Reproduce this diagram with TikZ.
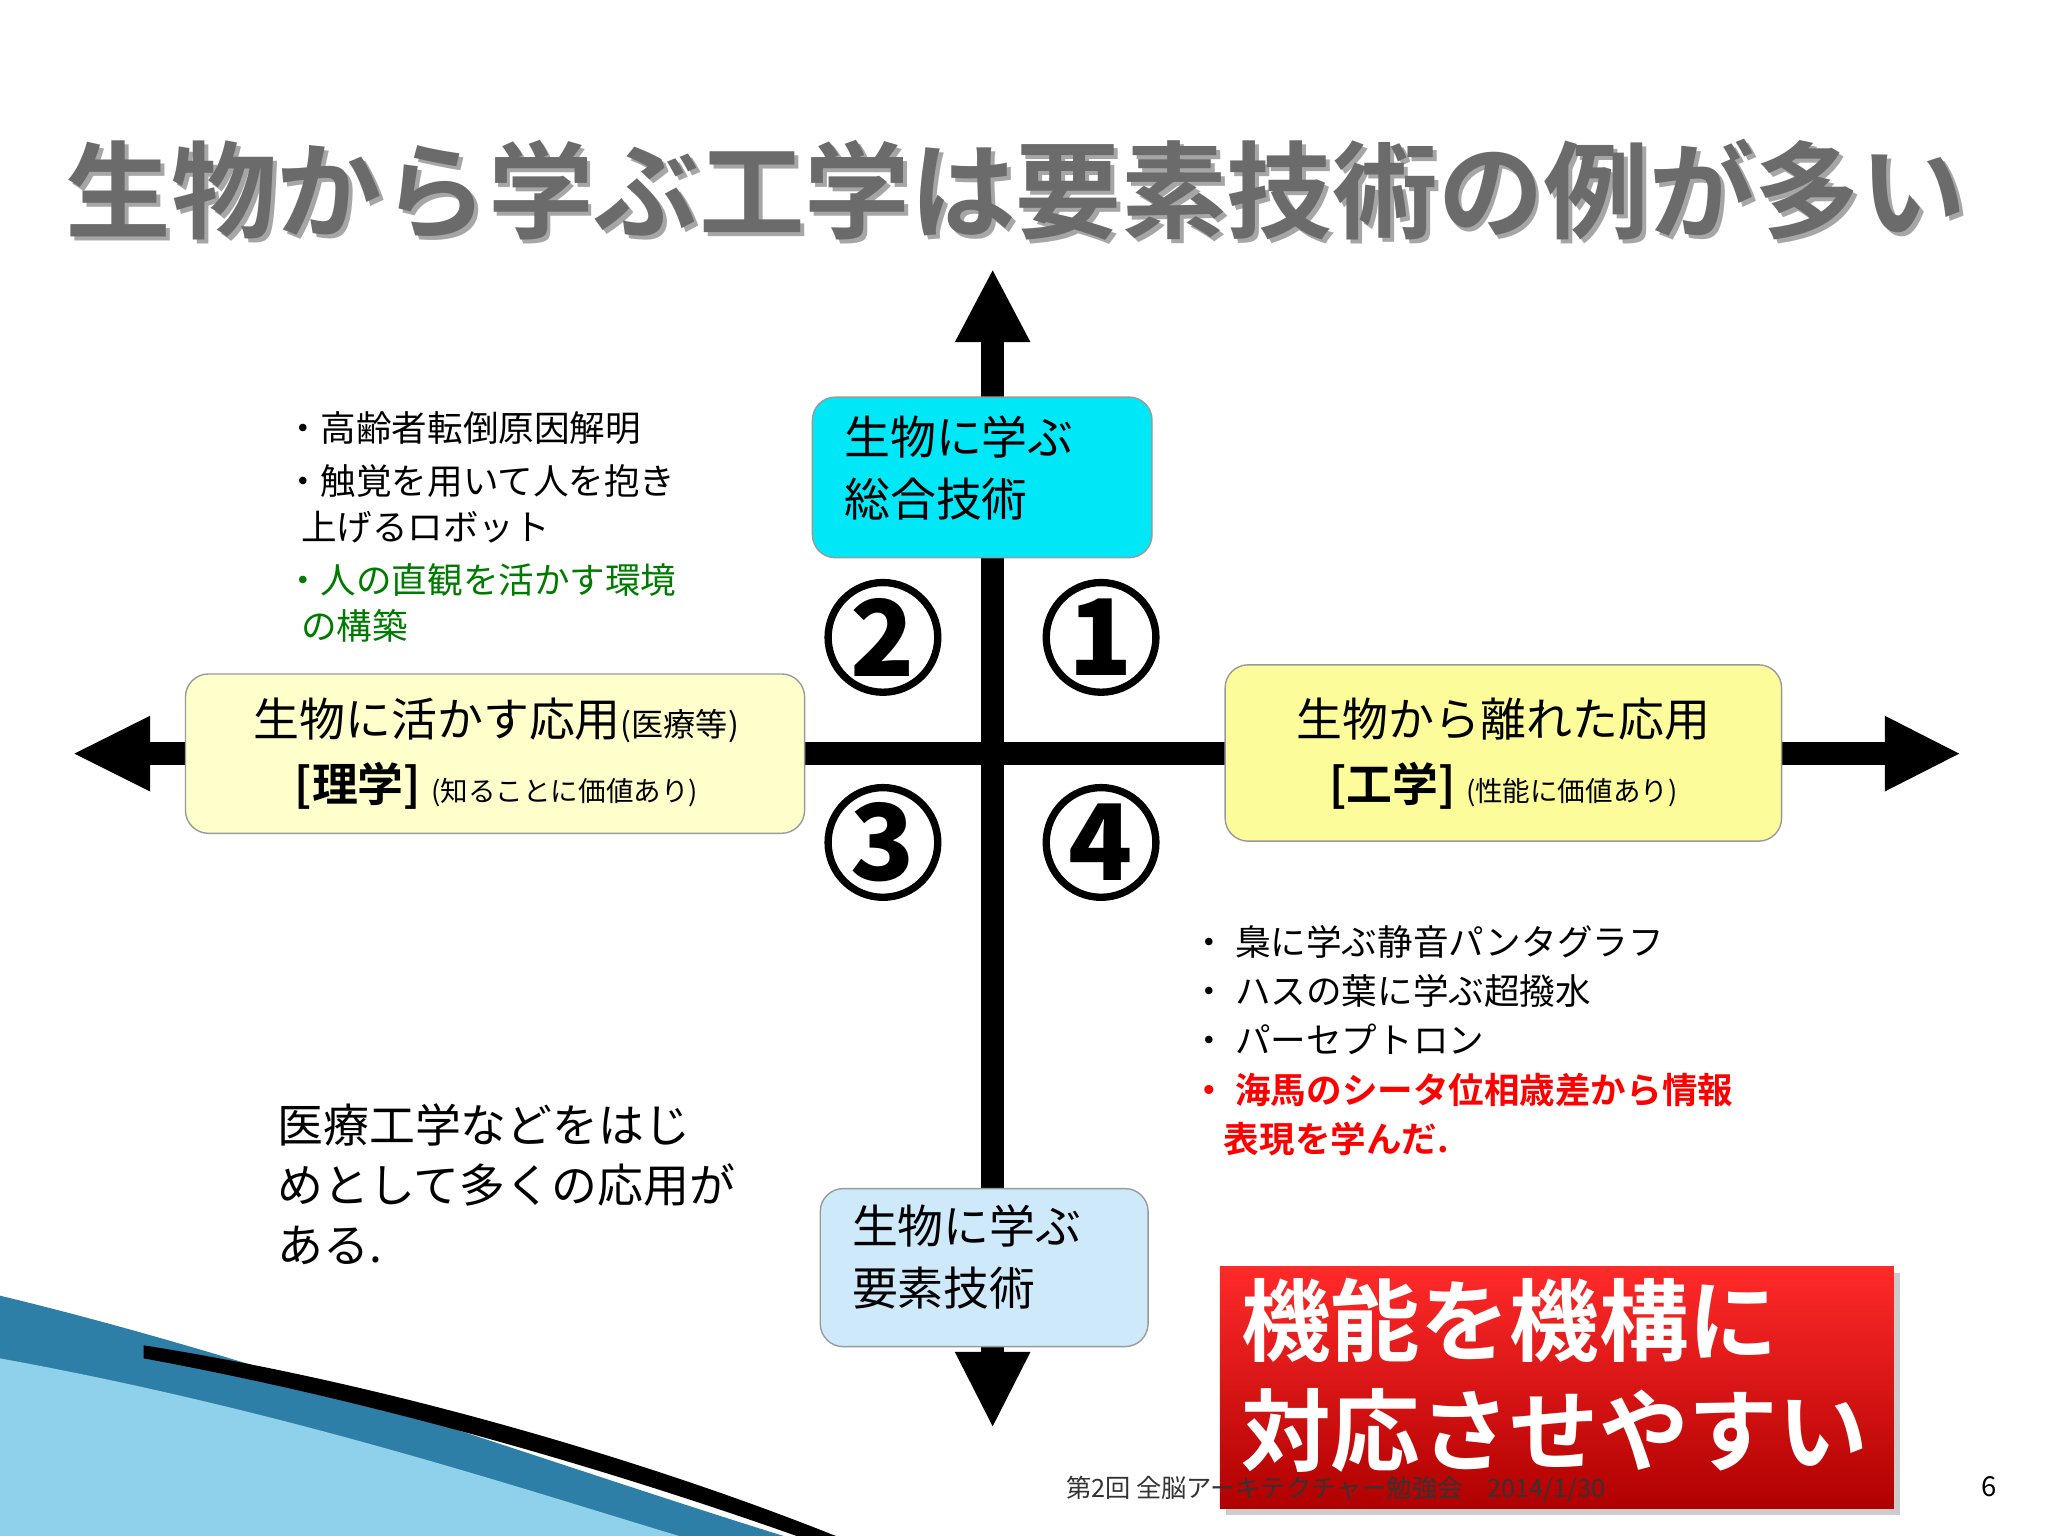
\documentclass[tikz,border=0pt]{standalone}
\usepackage{fontspec}
\setmainfont{Noto Sans CJK JP}
\newfontfamily\cjkb{Noto Sans CJK JP Bold}
\usetikzlibrary{shadows}
\definecolor{ttl}{HTML}{6B6B6B}
\definecolor{grn}{HTML}{007A00}
\definecolor{cyanbox}{HTML}{00E8F8}
\definecolor{ylw1}{HTML}{FFFFCC}
\definecolor{ylw2}{HTML}{FCFC9A}
\definecolor{lblue}{HTML}{CDE9FA}
\definecolor{redA}{HTML}{FF2A2A}
\definecolor{redB}{HTML}{B00000}
\definecolor{swA}{HTML}{2E7FA8}
\definecolor{swB}{HTML}{8FD0EA}
\tikzset{
  px/.style={x=0.02cm,y=-0.02cm},
  qbox/.style={draw=black!40,rounded corners=10pt,line width=0.6pt},
  axis/.style={line width=10pt},
  circnum/.style={circle,draw,line width=3.2pt,minimum size=1.68cm,inner sep=0pt,font=\fontsize{46}{46}\selectfont\bfseries},
  btxt/.style={anchor=north west,align=left,inner sep=0pt},
  ttlfont/.style={anchor=west,font=\fontsize{46}{46}\selectfont\cjkb,inner sep=0pt},
}
\begin{document}
\begin{tikzpicture}[px]
\useasboundingbox (0,0) rectangle (1568,1176);
% swoosh
\fill[swA] (0,992) .. controls (200,1040) and (420,1120) .. (600,1176) -- (0,1176) -- cycle;
\fill[swB] (0,1040) .. controls (220,1080) and (400,1140) .. (520,1176) -- (0,1176) -- cycle;
\fill[black] (110,1030) .. controls (300,1060) and (500,1120) .. (640,1176) -- (610,1176) .. controls (480,1130) and (300,1075) .. (110,1040) -- cycle;
% title
\node[ttlfont,text=black!35] (titles) at (53,148) {生物から学ぶ工学は要素技術の例が多い};
\node[ttlfont,text=ttl] (title) at (50,145) {生物から学ぶ工学は要素技術の例が多い};
% axes
\coordinate (vt) at (760,262); \coordinate (vb) at (760,1035);
\coordinate (hl) at (115,577); \coordinate (hr) at (1443,577);
\draw[axis] (vt) -- (vb);
\draw[axis] (hl) -- (hr);
\fill (vt) ++(-29,0) -- (760,207) -- (789,262) -- cycle;
\fill (vb) ++(-29,0) -- (760,1092) -- (789,1035) -- cycle;
\fill (hl) ++(0,-29) -- (57,577) -- (115,606) -- cycle;
\fill (hr) ++(0,-29) -- (1500,577) -- (1443,606) -- cycle;
% boxes
\draw[qbox,fill=cyanbox] (622,304) rectangle (882,427);
\node[btxt,font=\fontsize{20}{27}\selectfont] (top) at (646,318) {生物に学ぶ\\総合技術};
\draw[qbox,fill=ylw1] (142,516) rectangle (616,638);
\node[font=\fontsize{20}{28}\selectfont,align=center] (lft) at (380,577) {生物に活かす応用{\fontsize{14}{14}\selectfont(医療等)}\\{\cjkb [理学]} {\fontsize{12}{12}\selectfont(知ることに価値あり)}};
\draw[qbox,fill=ylw2] (938,509) rectangle (1364,644);
\node[font=\fontsize{20}{28}\selectfont,align=center] (rgt) at (1151,577) {生物から離れた応用\\{\cjkb [工学]} {\fontsize{12}{12}\selectfont(性能に価値あり)}};
\draw[qbox,fill=lblue] (628,910) rectangle (879,1031);
\node[btxt,font=\fontsize{20}{27}\selectfont] (bot) at (652,922) {生物に学ぶ\\要素技術};
% circled numbers
\node[circnum] (n2) at (676,488) {2};
\node[circnum] (n1) at (843,488) {1};
\node[circnum] (n3) at (676,645) {3};
\node[circnum] (n4) at (843,645) {4};
% top-left bullets
\node[btxt,font=\fontsize{15.5}{20}\selectfont] (tl) at (218,315) {・高齢者転倒原因解明\\[3pt]・触覚を用いて人を抱き\\\ \ 上げるロボット\\[3pt]{\color{grn}・人の直観を活かす環境}\\{\color{grn}\ \ の構築}};
% bottom-right bullets
\node[btxt,font=\fontsize{15.5}{21.5}\selectfont] (br) at (912,708) {・ 梟に学ぶ静音パンタグラフ\\・ ハスの葉に学ぶ超撥水\\・ パーセプトロン\\{\color{red}\cjkb ・ 海馬のシータ位相歳差から情報}\\{\color{red}\cjkb \ \ \ \ 表現を学んだ.}};
% bottom-left text
\node[btxt,font=\fontsize{20}{26}\selectfont] (bl) at (212,845) {医療工学などをはじ\\めとして多くの応用が\\ある.};
% red box
\shade[top color=redA,bottom color=redB,drop shadow={opacity=0.4}] (934,970) rectangle (1450,1155);
\node[btxt,text=white,font=\fontsize{39}{48}\selectfont\cjkb] (rb) at (950,978) {機能を機構に\\対応させやすい};
% footer
\node[anchor=west,font=\fontsize{11}{11}\selectfont,text=black!80] (ft) at (810,1140) {第2回 全脳アーキテクチャー勉強会\quad 2014/1/30};
\node[font=\fontsize{12}{12}\selectfont] (pg) at (1523,1138) {6};
\end{tikzpicture}
\end{document}
